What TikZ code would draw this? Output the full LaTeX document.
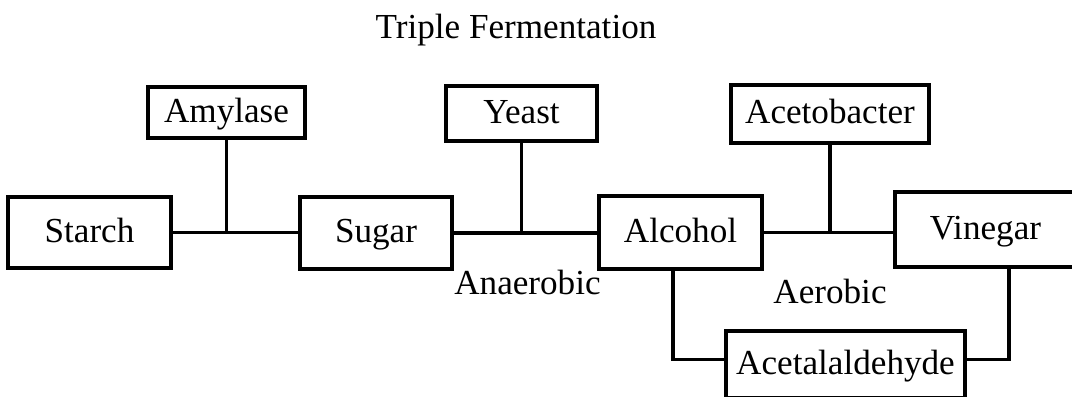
\documentclass[tikz,border=0pt]{standalone}
\usepackage{fontspec}
\setmainfont{Liberation Serif}
\begin{document}
\begin{tikzpicture}[x=0.02cm, y=-0.02cm, line width=2.2pt,
	every node/.style={font=\fontsize{20}{24}\selectfont},
	box/.style={draw, inner sep=0pt, text height=13pt, text depth=2pt},
	note/.style={anchor=base}]
	\useasboundingbox (0,0) rectangle (1072,396);

	% Title
	\node[note] (title) at (516,38) {Triple Fermentation};

	% Draw the boxes on the main line
	\node[box, minimum width=3.26cm, minimum height=1.42cm] (starch) at (89.5,232.5) {Starch};
	\node[box, minimum width=3.04cm, minimum height=1.44cm] (sugar) at (376,233) {Sugar};
	\node[box, minimum width=3.26cm, minimum height=1.46cm] (alcohol) at (680.5,232.5) {Alcohol};
	\node[box, minimum width=3.62cm, minimum height=1.50cm] (vinegar) at (985.5,229.5) {Vinegar};
	\node[box, minimum width=4.78cm, minimum height=1.34cm] (acetal) at (845.5,364.5) {Acetalaldehyde};

	% Draw the boxes above the line
	\node[box, minimum width=3.14cm, minimum height=1.02cm] (amylase) at (226.5,112.5) {Amylase};
	\node[box, minimum width=3.02cm, minimum height=1.10cm] (yeast) at (521.5,113.5) {Yeast};
	\node[box, minimum width=3.96cm, minimum height=1.16cm] (acetobacter) at (830,114) {Acetobacter};

	% Draw the main line
	\draw[-] (starch.east) -- (starch.east -| sugar.west);
	\draw[-] (sugar.east) -- (sugar.east -| alcohol.west);
	\draw[-] (alcohol.east) -- (alcohol.east -| vinegar.west);

	% Draw the lines down from the boxes above
	\draw[-] (amylase) -- (amylase |- starch.east);
	\draw[-] (yeast) -- (yeast |- sugar.east);
	\draw[-] (acetobacter) -- (acetobacter |- alcohol.east);

	% Draw the side branch
	\draw[-] ([xshift=-0.15cm]alcohol.south) |- ([yshift=0.1cm]acetal.west);
	\draw[-] ([xshift=0.47cm]vinegar.south) |- ([yshift=0.1cm]acetal.east);

	\node[note] (anaerobic) at (527.5,294) {Anaerobic};
	\node[note] (aerobic) at (830,303) {Aerobic};
\end{tikzpicture}
\end{document}
